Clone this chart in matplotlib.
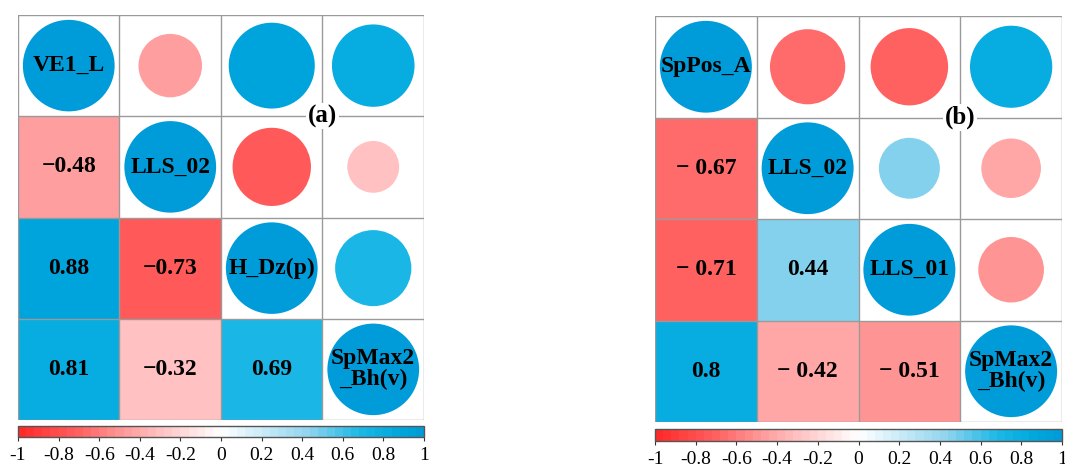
import matplotlib.pyplot as plt
import numpy as np
from matplotlib.colors import LinearSegmentedColormap, Normalize
from matplotlib.patches import Circle, Rectangle
from matplotlib.cm import ScalarMappable

plt.rcParams['font.family'] = ['Liberation Serif', 'DejaVu Serif']

# variable names on the diagonal
labels_a = ["VE1_L", "LLS_02", "H_Dz(p)", "SpMax2\n_Bh(v)"]
labels_b = ["SpPos_A", "LLS_02", "LLS_01", "SpMax2\n_Bh(v)"]

# lower triangle correlations, row by row: (1,0), (2,0), (2,1), (3,0), (3,1), (3,2)
lower_a = [-0.48, 0.88, -0.73, 0.81, -0.32, 0.69]
lower_b = [-0.67, -0.71, 0.44, 0.8, -0.42, -0.51]

cbar_ticks = [-1, -0.8, -0.6, -0.4, -0.2, 0, 0.2, 0.4, 0.6, 0.8, 1]

# colour stops (value, colour)
stops = [(-1, "#FF2A2A"), (-0.7, "#FF6464"), (-0.5, "#FF9797"), (-0.3, "#FFC2C2"),
         (0, "#FFFFFF"), (0.44, "#90D4EE"), (0.69, "#1EB8E6"), (0.88, "#00A8DE"),
         (1, "#009CDA")]
cmap = LinearSegmentedColormap.from_list(
    "rb", [((v + 1) / 2, c) for v, c in stops], N=50)
norm = Normalize(-1, 1)


def build_matrix(lower):
    m = np.eye(4)
    k = 0
    for i in range(1, 4):
        for j in range(i):
            m[i, j] = lower[k]
            m[j, i] = lower[k]
            k += 1
    return m


def fmt(v, gap):
    s = f"{v:g}"
    return s.replace("-", "\u2212" + gap)


def draw_panel(ax, labels, lower, tag, gap):
    m = build_matrix(lower)
    n = len(labels)
    for i in range(n):
        for j in range(n):
            v = m[i, j]
            if i > j:
                ax.add_patch(Rectangle((j, i), 1, 1, facecolor=cmap(norm(v)),
                                       edgecolor="none", zorder=1))
                ax.text(j + 0.5, i + 0.5, fmt(v, gap), ha="center", va="center",
                        fontsize=17, fontweight="bold", zorder=4)
            else:
                r = 0.452 * np.sqrt(abs(v))
                ax.add_patch(Circle((j + 0.5, i + 0.5), r, facecolor=cmap(norm(v)),
                                    edgecolor="none", zorder=2))
                if i == j:
                    ax.text(j + 0.5, i + 0.5, labels[i], ha="center", va="center",
                            fontsize=17, fontweight="bold", zorder=4,
                            linespacing=1.0)
    for k in range(n + 1):
        ax.axhline(k, color="#9a9a9a", lw=1, zorder=3)
        ax.axvline(k, color="#9a9a9a", lw=1, zorder=3)
    ax.set_xlim(0, n)
    ax.set_ylim(n, 0)
    ax.axis("off")
    ax.text(3.0, 1.0, tag, ha="center", va="center", fontsize=18,
            fontweight="bold", zorder=5,
            bbox=dict(facecolor="white", edgecolor="none", pad=1))


def draw_cbar(fig, rect):
    cax = fig.add_axes(rect)
    sm = ScalarMappable(norm=norm, cmap=cmap)
    cb = fig.colorbar(sm, cax=cax, orientation="horizontal", ticks=cbar_ticks)
    cb.ax.set_xticklabels([f"{t:g}" for t in cbar_ticks])
    cb.outline.set_edgecolor("#555555")
    cb.outline.set_linewidth(1)
    cb.ax.tick_params(labelsize=14, length=3, width=0.8, color="#333333", pad=4)


W, H = 1065, 466
fig = plt.figure(figsize=(W / 100, H / 100), dpi=100)

ax1 = fig.add_axes([18 / W, 1 - 420 / H, 406 / W, 405 / H])
draw_panel(ax1, labels_a, lower_a, "(a)", "")
draw_cbar(fig, [18 / W, 1 - 437 / H, 406 / W, 11 / H])

ax2 = fig.add_axes([655 / W, 1 - 422 / H, 407 / W, 406 / H])
draw_panel(ax2, labels_b, lower_b, "(b)", " ")
draw_cbar(fig, [655 / W, 1 - 441 / H, 407 / W, 12 / H])

fig.savefig("out.png", dpi=100)
